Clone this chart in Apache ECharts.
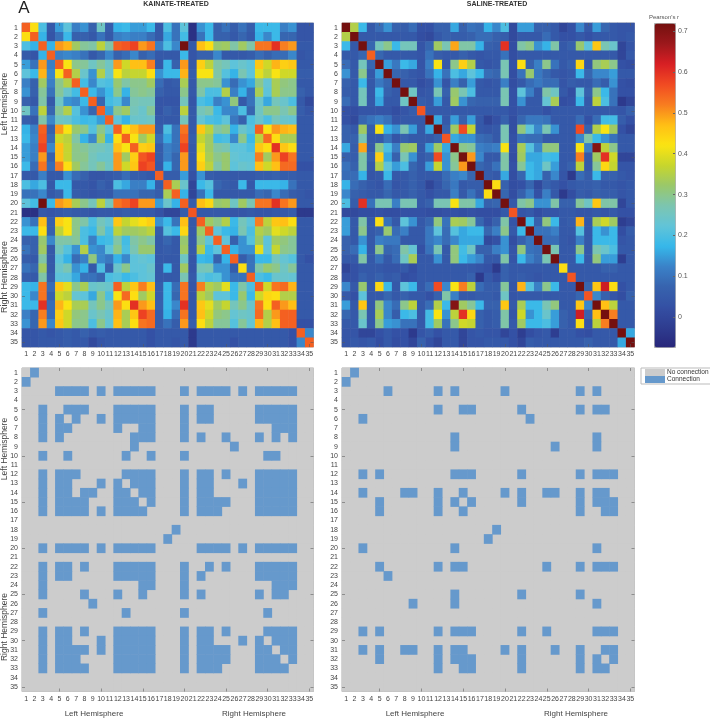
<!DOCTYPE html>
<html>
<head>
<meta charset="utf-8">
<style>html,body{margin:0;padding:0;background:#fff}#c{width:710px;height:720px;filter:blur(0.35px)}</style>
<script src="https://cdn.jsdelivr.net/npm/echarts@6/dist/echarts.min.js"></script>
</head>
<body>
<div id="c"></div>
<script>
const regions = Array.from({length: 35}, (_, i) => String(i + 1));
const colorTicks = [0, 0.1, 0.2, 0.3, 0.4, 0.5, 0.6, 0.7];
const colorStops = ['#28267a','#2e3d90','#3450a4','#3763ae','#3a82c8','#36b8ea','#62c4d8','#7cc5b0','#9ac86a','#c8d62c','#fbe412','#ffbe15','#f87c20','#f14a22','#d81f24','#9c181c','#74100f'];

// Upper triangles of the correlation matrices (Pearson's r x 100), row i holds columns i..35
const kainateUpper = [
[55,43,20,5,15,22,12,14,7,25,6,17,18,15,15,18,5,20,10,22,-5,14,18,7,10,6,10,6,18,18,18,12,14,4,4],
[55,17,4,10,18,7,7,5,10,5,12,13,12,12,9,5,16,10,19,-5,10,18,7,7,5,8,5,17,13,18,8,8,4,4],
[55,17,50,48,33,29,28,36,28,55,56,58,50,53,12,20,13,72,5,47,43,32,33,28,33,28,53,53,60,52,50,5,5],
[55,12,13,12,10,5,8,13,7,9,13,7,9,5,5,5,18,4,7,7,13,5,5,5,6,9,7,9,9,13,4,5],
[55,42,30,29,25,29,25,50,38,47,47,52,5,18,7,50,5,45,36,28,26,22,24,22,46,38,48,45,46,5,5],
[55,35,24,14,35,24,42,36,37,37,43,14,18,18,48,6,42,42,28,21,17,27,22,40,36,42,38,38,6,6],
[55,19,13,21,20,32,28,30,30,33,9,5,6,34,5,30,30,29,14,9,14,16,30,23,34,31,30,5,5],
[55,18,14,18,30,17,29,30,29,7,5,5,30,5,28,20,20,35,12,17,10,34,22,34,30,30,7,5],
[55,8,19,21,13,27,26,26,4,4,4,26,4,20,18,12,14,31,5,10,24,16,26,24,20,5,1],
[55,15,30,33,26,24,29,4,7,5,36,5,26,28,18,13,13,20,8,25,30,30,27,30,6,4],
[55,22,17,24,24,25,5,5,5,26,5,23,20,19,22,11,7,20,24,20,26,24,23,5,5],
[55,43,47,50,50,6,20,10,53,5,46,36,28,30,17,24,21,55,42,50,48,47,5,5],
[55,42,33,38,9,16,10,55,6,37,33,19,20,13,30,18,36,54,43,34,34,5,5],
[55,45,46,6,12,10,58,5,40,33,28,27,22,22,20,46,43,60,46,43,5,5],
[56,58,6,12,8,50,5,43,34,30,32,23,22,22,52,33,50,58,53,5,5],
[56,5,17,8,50,5,45,36,28,32,22,24,23,47,38,47,54,54,3,3],
[55,6,6,15,3,14,6,5,5,5,5,5,6,6,7,6,6,5,5],
[55,34,24,0,18,21,8,6,5,18,5,18,18,18,17,10,5,5],
[55,17,0,10,18,5,5,5,5,5,9,8,13,9,6,5,4],
[55,6,47,44,32,33,25,33,27,53,53,60,53,50,5,5],
[56,5,5,5,5,4,4,5,4,4,5,5,6,-3,-3],
[55,33,30,35,18,26,22,52,36,46,47,43,5,5],
[55,22,18,17,27,20,35,33,40,38,36,5,5],
[55,22,7,14,21,33,22,33,31,29,5,5],
[55,17,14,14,40,22,37,30,29,5,5],
[55,6,10,18,18,26,23,21,5,3],
[43,10,28,32,30,25,29,5,5],
[55,20,18,24,24,23,5,5],
[55,38,53,54,48,5,5],
[44,43,35,35,5,5],
[55,50,47,5,5],
[55,55,5,5],
[55,3,3],
[55,13],
[55]
];
const salineUpper = [
[72,35,18,5,9,14,7,6,9,3,3,7,7,16,7,10,9,17,13,20,1,15,15,7,7,5,0,3,13,5,15,8,5,4,4],
[72,5,5,5,5,5,5,5,2,1,5,7,6,6,7,9,9,7,6,1,5,5,5,9,5,3,3,5,3,5,5,5,4,5],
[72,8,26,30,18,26,26,4,8,33,27,49,28,28,17,7,6,60,2,28,30,14,17,28,5,7,32,22,46,27,24,0,4],
[55,8,5,5,5,5,4,10,6,5,5,7,5,4,5,5,10,2,5,5,5,5,5,5,5,5,5,5,5,5,0,5],
[72,15,11,18,16,4,12,42,5,30,45,35,5,4,5,27,3,43,7,12,30,10,5,7,44,5,31,34,30,3,2],
[72,8,7,5,4,10,17,10,20,16,22,18,9,8,27,2,10,32,11,8,5,4,5,18,8,13,13,15,5,5],
[72,5,5,2,4,14,4,12,7,15,5,4,5,12,2,5,9,11,9,9,4,6,5,5,9,6,14,3,2],
[72,25,4,5,27,7,32,27,20,5,5,5,27,3,22,12,5,28,25,5,2,22,7,30,18,10,3,3],
[72,6,5,15,5,33,14,8,7,7,7,27,3,14,5,5,23,34,2,3,18,5,36,20,10,-3,0],
[56,5,5,5,5,5,5,5,5,5,5,3,5,5,5,3,5,5,5,5,5,5,5,5,4,7],
[72,16,5,15,7,15,5,0,3,7,2,8,11,11,10,5,5,5,9,3,9,19,19,6,3],
[72,7,33,57,37,5,4,5,27,2,31,22,13,27,14,5,5,57,7,35,42,33,3,0],
[56,16,14,14,9,8,5,27,3,10,9,9,5,5,5,5,13,28,18,14,10,5,5],
[72,30,29,12,11,12,42,3,34,21,13,31,31,5,5,42,12,70,36,30,5,5],
[72,50,13,5,5,28,2,33,16,16,19,18,5,5,52,5,33,60,38,0,0],
[72,8,6,10,28,3,29,18,16,25,15,5,7,36,5,29,44,37,4,4],
[72,6,5,16,2,8,18,16,7,13,4,-3,9,6,18,7,7,5,4],
[72,43,7,2,3,8,1,7,5,3,5,6,6,7,5,5,4,5],
[72,8,2,7,12,3,12,5,-3,2,6,5,7,6,6,4,5],
[72,5,28,30,14,14,28,7,7,29,25,46,28,28,0,5],
[56,4,5,2,4,4,5,5,4,4,5,4,5,3,3],
[72,18,7,31,18,5,6,48,5,34,38,33,-2,0],
[72,10,10,12,5,5,21,5,18,14,18,2,6],
[72,9,9,5,4,12,5,18,18,18,4,5],
[72,27,5,5,30,5,27,24,20,5,5],
[72,5,5,18,5,31,15,15,-2,5],
[43,5,5,5,5,7,7,5,5],
[56,5,5,5,5,5,5,5],
[72,8,46,63,43,3,5],
[56,13,7,4,2,7],
[72,47,36,5,5],
[72,52,5,5],
[72,5,5],
[72,16],
[72]
];

// Significant connections: for each region (row), the connected regions (columns)
const kainateLinks = [
[2],[1],
[5,6,7,8,10,12,13,14,15,16,20,22,23,24,25,27,29,30,31,32,33],
[],
[3,6,7,8,12,13,14,15,16,20,22,23,29,30,31,32,33],
[3,5,7,10,12,13,14,15,16,20,22,23,29,30,31,32,33],
[3,5,6,12,15,16,20,31,32,33],
[3,5,14,15,16,20,22,25,29,31,33],
[14,26],
[3,6,13,16,20,30,31],
[],
[3,5,6,7,13,14,15,16,20,22,23,25,29,30,31,32,33],
[3,5,6,10,12,14,15,16,20,22,23,27,29,30,31,32,33],
[3,5,6,8,9,12,13,15,16,20,22,23,29,30,31,32,33],
[3,5,6,7,8,12,13,14,16,20,22,23,24,25,29,30,31,32,33],
[3,5,6,7,8,10,12,13,14,15,20,22,23,24,29,30,31,32,33],
[],
[19],[18],
[3,5,6,7,8,10,12,13,14,15,16,22,23,24,25,27,29,30,31,32,33],
[],
[3,5,6,8,12,13,14,15,16,20,23,25,29,30,31,32,33],
[3,5,6,12,13,14,15,16,20,22,29,30,31,32,33],
[3,15,16,20,31,32,33],
[3,8,12,15,20,22,29,31,32],
[9],
[3,13,20,30],
[],
[3,5,6,8,12,13,14,15,16,20,22,23,25,30,31,32,33],
[3,5,6,10,12,13,14,15,16,20,22,23,27,29,31,32,33],
[3,5,6,7,8,10,12,13,14,15,16,20,22,23,24,25,29,30,32,33],
[3,5,6,7,12,13,14,15,16,20,22,23,24,25,29,30,31,33],
[3,5,6,7,8,12,13,14,15,16,20,22,23,24,29,30,31,32],
[],[]
];
const salineLinks = [
[2],[1],
[6,12,14,20,29,31],
[],
[12,15,16,22,29,31,32],
[3,23],
[],
[14,31],
[14,26,31],
[],[],
[3,5,14,15,16,22,29,31,32,33],
[],
[3,8,9,12,15,20,22,25,26,29,31,32],
[5,12,14,16,22,29,31,32,33],
[5,12,15,29,32,33],
[],
[19],[18],
[3,14,31],
[],
[5,12,14,15,25,29,31,32,33],
[6],
[],
[14,22,29],
[9,14,31],
[],[],
[3,5,12,14,15,16,22,25,31,32,33],
[],
[3,5,8,9,12,14,15,20,22,26,29,32,33],
[5,12,14,15,16,22,29,31,33],
[12,15,16,22,29,31,32],
[],[]
];

const panels = [
  {left: 22,  top: 23,  w: 291.5, h: 324},
  {left: 342, top: 23,  w: 292.5, h: 324},
  {left: 22,  top: 368, w: 291.5, h: 323.5},
  {left: 342, top: 368, w: 292.5, h: 323.5}
];
const tickEvery = (i) => (i + 1) % 5 === 0;

function fullCells(upper) {
  const out = [];
  upper.forEach((row, i) => row.forEach((v, k) => {
    const j = i + k;
    out.push([j, i, v / 100]);
    if (j !== i) out.push([i, j, v / 100]);
  }));
  return out;
}
function linkCells(links, on) {
  const out = [];
  links.forEach((cols, i) => {
    for (let j = 0; j < 35; j++) {
      if (cols.includes(j + 1) === on) out.push([j, i, on ? 1 : 0]);
    }
  });
  return out;
}

const grids = panels.map(p => ({
  left: p.left, top: p.top, width: p.w, height: p.h, show: true,
  backgroundColor: '#cccccc', borderColor: '#b0b0b0', borderWidth: 1
}));
grids.push({left: 654, top: 23, width: 21, height: 324, show: false});

const xAxes = [], yAxes = [];
panels.forEach((p, g) => {
  const tick = {show: true, inside: true, length: 3, alignWithLabel: true, interval: tickEvery,
                lineStyle: {color: 'rgba(90,90,90,0.55)', width: 1}};
  xAxes.push({type: 'category', gridIndex: g, data: regions, position: 'bottom', z: 5,
    axisLine: {show: false}, axisTick: tick,
    axisLabel: {interval: 0, fontSize: 7, color: '#444', margin: 4, fontFamily: 'Liberation Sans', hideOverlap: false}});
  yAxes.push({type: 'category', gridIndex: g, data: regions, inverse: true, position: 'left', z: 5,
    axisLine: {show: false}, axisTick: tick,
    axisLabel: {interval: 0, fontSize: 7, color: '#444', margin: 4, fontFamily: 'Liberation Sans', hideOverlap: false}});
  xAxes.push({type: 'category', gridIndex: g, data: regions, position: 'top', z: 5,
    axisLine: {show: false}, axisTick: tick, axisLabel: {show: false}});
  yAxes.push({type: 'category', gridIndex: g, data: regions, inverse: true, position: 'right', z: 5,
    axisLine: {show: false}, axisTick: tick, axisLabel: {show: false}});
});
// colour bar axis
xAxes.push({type: 'category', gridIndex: 4, data: ['r'], show: false});
yAxes.push({type: 'value', gridIndex: 4, min: -0.073, max: 0.72, position: 'right', z: 10,
  splitLine: {show: false}, axisLine: {show: false},
  axisTick: {show: true, inside: true, length: 2, customValues: colorTicks, lineStyle: {color: '#666'}},
  axisLabel: {fontSize: 7, color: '#555', margin: 3, customValues: colorTicks, fontFamily: 'Liberation Sans',
    formatter: v => String(Math.round(v * 10) / 10)}});

const base = {type: 'heatmap', progressive: 0, animation: false, emphasis: {disabled: true}, itemStyle: {borderWidth: 0}};
const series = [
  Object.assign({}, base, {name: 'Kainate r', xAxisIndex: 0, yAxisIndex: 0, data: fullCells(kainateUpper)}),
  Object.assign({}, base, {name: 'Saline r', xAxisIndex: 2, yAxisIndex: 2, data: fullCells(salineUpper)}),
  Object.assign({}, base, {name: 'No connection', xAxisIndex: 4, yAxisIndex: 4, data: linkCells(kainateLinks, false), itemStyle: {color: '#cccccc'}}),
  Object.assign({}, base, {name: 'Connection', xAxisIndex: 4, yAxisIndex: 4, data: linkCells(kainateLinks, true), itemStyle: {color: '#6699cc'}}),
  Object.assign({}, base, {name: 'No connection', xAxisIndex: 6, yAxisIndex: 6, data: linkCells(salineLinks, false), itemStyle: {color: '#cccccc'}}),
  Object.assign({}, base, {name: 'Connection', xAxisIndex: 6, yAxisIndex: 6, data: linkCells(salineLinks, true), itemStyle: {color: '#6699cc'}})
];

const font = (size, weight) => (weight || 'normal') + ' ' + size + 'px "Liberation Sans"';
const txt = (text, x, y, size, fill, opts) => ({type: 'text', x, y, rotation: (opts && opts.rot) || 0, silent: true,
  style: {text, fill, font: font(size, opts && opts.weight), textAlign: 'center', textVerticalAlign: 'middle'}});
const graphicEls = [
  txt('A', 24, 8, 17, '#222'),
  txt('KAINATE-TREATED', 176, 4.5, 7, '#333', {weight: 'bold'}),
  txt('SALINE-TREATED', 497, 4.5, 7, '#333', {weight: 'bold'}),
  txt("Pearson's r", 664, 17, 6, '#555'),
  txt('Left Hemisphere', 5, 104, 8.5, '#444', {rot: Math.PI / 2}),
  txt('Right Hemisphere', 5, 277, 9, '#444', {rot: Math.PI / 2}),
  txt('Left Hemisphere', 5, 449, 8.5, '#444', {rot: Math.PI / 2}),
  txt('Right Hemisphere', 5, 627, 8.5, '#444', {rot: Math.PI / 2}),
  txt('Left Hemisphere', 94, 714, 8, '#444'),
  txt('Right Hemisphere', 254, 714, 8, '#444'),
  txt('Left Hemisphere', 415, 714, 8, '#444'),
  txt('Right Hemisphere', 576, 714, 8, '#444')
];

const chart = echarts.init(document.getElementById('c'), null, {renderer: 'canvas'});
chart.setOption({
  animation: false,
  backgroundColor: '#ffffff',
  grid: grids, xAxis: xAxes, yAxis: yAxes, series,
  visualMap: {
    type: 'continuous', seriesIndex: [0, 1], min: -0.073, max: 0.72,
    left: 654, top: 23, itemWidth: 21, itemHeight: 324, padding: 0, calculable: false, hoverLink: false,
    text: null, showLabel: false, orient: 'vertical', borderColor: '#aaa', borderWidth: 1,
    inRange: {color: colorStops}, textStyle: {fontSize: 1, color: 'rgba(0,0,0,0)'}, formatter: () => ''
  },
  legend: {
    data: ['No connection', 'Connection'], left: 641, top: 368, orient: 'vertical', icon: 'rect',
    itemWidth: 20, itemHeight: 7, itemGap: 0, padding: [1, 2, 1, 4], selectedMode: false,
    borderColor: '#bbb', borderWidth: 1,
    textStyle: {fontSize: 6.5, color: '#333', padding: [0, 0, 0, -3], fontFamily: 'Liberation Sans'}
  },
  graphic: graphicEls
});
</script>
</body>
</html>
